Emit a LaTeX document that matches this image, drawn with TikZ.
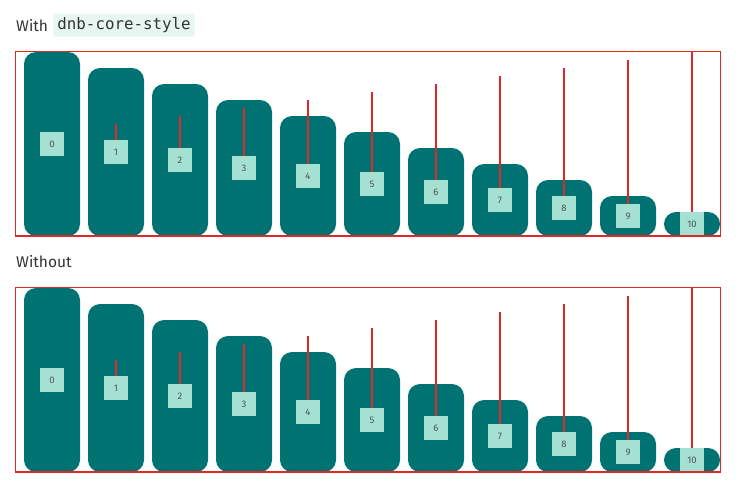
\documentclass[tikz,border=0pt]{standalone}
\usepackage{fontspec}
\setmainfont{Fira Sans}
\newfontfamily\codefont{DejaVu Sans Mono}
\usetikzlibrary{positioning}

\definecolor{seagreen}{HTML}{007272}
\definecolor{mint}{HTML}{A5E1D2}
\definecolor{mintlight}{HTML}{E8F6F2}
\definecolor{guidered}{HTML}{DC2A2A}
\definecolor{inkgray}{HTML}{333333}

\begin{document}
\begin{tikzpicture}[
  x=1pt, y=-1pt,
  title/.style={font=\fontsize{15.5}{18}\selectfont, text=inkgray, inner sep=0pt},
  codebox/.style={font=\codefont\fontsize{15.8}{18}\selectfont, text=inkgray, fill=mintlight,
    rounded corners=2pt, inner xsep=4pt, minimum height=23pt},
  bar/.style={fill=seagreen, draw=none, inner sep=0pt, minimum width=56pt, rounded corners=12pt},
  tag/.style={fill=mint, inner sep=0pt, minimum size=24pt, text=inkgray!85,
    font=\fontsize{9.5}{11}\selectfont},
  guide/.style={draw=guidered, line width=1.1pt},
  frame/.style={draw=guidered, line width=1.1pt}
]
  \useasboundingbox (0,0) rectangle (736,488);

  % TITLES
  \node[title, anchor=base west] (title-with) at (16,31) {With};
  \node[codebox, right=5pt of title-with] (code-with) {dnb-core-style};
  \node[title, anchor=base west] (title-without) at (16,267) {Without};

  % BARS
  \foreach \p/\dy in {with/0, without/236} {
    \begin{scope}[shift={(0,\dy)}]
      \foreach \i in {0,...,10} {
        \node[bar, minimum height={(184-16*\i)*1pt}] (bar-\p-\i) at ({52+64*\i},{144+8*\i}) {};
        \node[tag] (tag-\p-\i) at (bar-\p-\i) {\i};
        \ifnum\i>0
          \coordinate (tip-\p-\i) at ([yshift={16*\i*1pt}]tag-\p-\i.north);
          \draw[guide] (tag-\p-\i.north) -- (tip-\p-\i);
        \fi
      }
      \draw[frame] (15.5,51.5) rectangle (720.5,236);
    \end{scope}
  }

\end{tikzpicture}
\end{document}
